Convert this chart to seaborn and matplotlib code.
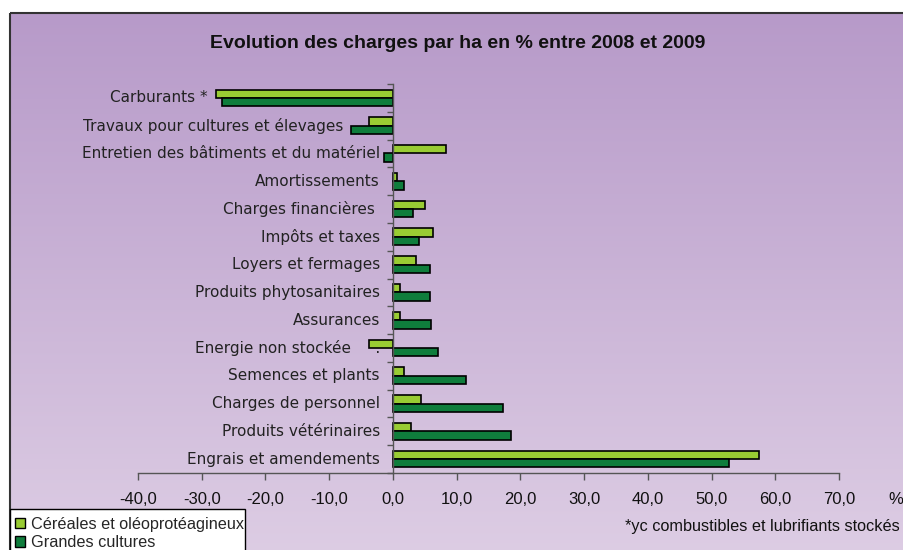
import numpy as np
import pandas as pd
import matplotlib
matplotlib.use("Agg")
import matplotlib.pyplot as plt
import matplotlib.ticker as mticker
from matplotlib.patches import Rectangle, Patch
import matplotlib.transforms as mtransforms
import seaborn as sns

# Data
categories = [
    "Carburants *",
    "Travaux pour cultures et élevages",
    "Entretien des bâtiments et du matériel",
    "Amortissements",
    "Charges financières ",
    "Impôts et taxes",
    "Loyers et fermages",
    "Produits phytosanitaires",
    "Assurances",
    "Energie non stockée     .",
    "Semences et plants",
    "Charges de personnel",
    "Produits vétérinaires",
    "Engrais et amendements",
]
cereales = [-27.8, -3.8, 8.3, 0.6, 5.1, 6.3, 3.7, 1.1, 1.1, -3.8, 1.8, 4.4, 2.8, 57.5]
grandes = [-26.8, -6.5, -1.4, 1.8, 3.2, 4.1, 5.8, 5.8, 6.0, 7.0, 11.4, 17.3, 18.6, 52.8]
series = ["Céréales et oléoprotéagineux", "Grandes cultures"]
colors = ["#99cc33", "#0f7d3c"]
xticks = [-40, -30, -20, -10, 0, 10, 20, 30, 40, 50, 60, 70]

df = pd.DataFrame({
    "Charge": categories * 2,
    "Type": [series[0]] * len(categories) + [series[1]] * len(categories),
    "Evolution": cereales + grandes,
})

sns.set_style("white")
plt.rcParams["font.family"] = ["Liberation Sans", "DejaVu Sans"]

W, H = 904, 550
fig = plt.figure(figsize=(W / 100, H / 100), dpi=100)

# Background gradient with frame
bg = fig.add_axes([0, 0, 1, 1], zorder=-2)
bg.set_xlim(0, W)
bg.set_ylim(H, 0)
bg.axis("off")
top = np.array([183, 154, 201]) / 255
bot = np.array([221, 205, 228]) / 255
t = np.linspace(0, 1, 256)[:, None]
grad = (top[None, :] * (1 - t) + bot[None, :] * t)[:, None, :]
bg.imshow(grad, extent=[10, W + 5, H + 5, 13], aspect="auto", interpolation="bilinear")
bg.add_patch(Rectangle((10, 13), W, H, fill=False, edgecolor="#333333", lw=1.5))
# legend box
bg.add_patch(Rectangle((10, 509), 235, 50, facecolor="white", edgecolor="black", lw=1))

# Main chart
ax = fig.add_axes([138 / W, 1 - 473 / H, (839 - 138) / W, (473 - 84) / H])
ax.patch.set_alpha(0)
sns.barplot(data=df, y="Charge", x="Evolution", hue="Type", order=categories,
            hue_order=series, palette=colors, saturation=1, width=0.6,
            edgecolor="black", linewidth=1.2, orient="h", ax=ax, legend=False)

ax.set_xlim(-40, 70)
ax.set_ylim(len(categories) - 0.5, -0.5)
ax.set_xlabel("")
ax.set_ylabel("")
ax.set_xticks(xticks)
ax.xaxis.set_major_formatter(mticker.FuncFormatter(lambda v, p: f"{v:.1f}".replace(".", ",")))

for s in ["top", "right"]:
    ax.spines[s].set_visible(False)
ax.spines["left"].set_position(("data", 0))
for s in ["left", "bottom"]:
    ax.spines[s].set_color("#555555")
    ax.spines[s].set_linewidth(1)

ax.tick_params(axis="x", bottom=True, direction="out", length=5, width=1, color="#555555",
               pad=9, labelsize=12, labelcolor="#111111")
ax.set_yticks(np.arange(len(categories)))
ax.set_yticklabels([])
ax.set_yticks(np.arange(-0.5, len(categories), 1), minor=True)
ax.tick_params(axis="y", which="major", left=False)
ax.tick_params(axis="y", which="minor", left=True, direction="out", length=4, width=1,
               color="#555555")

# Category labels: next to the axis, or left of long negative bars
for i, name in enumerate(categories):
    lo = min(cereales[i], grandes[i], 0)
    if lo < -5:
        tr = mtransforms.offset_copy(ax.transData, fig=fig, x=-8, y=0, units="dots")
        x = lo
    else:
        tr = mtransforms.offset_copy(ax.transData, fig=fig, x=-13, y=0, units="dots")
        x = 0
    ax.text(x, i, name, transform=tr, ha="right", va="center", fontsize=11,
            family="DejaVu Sans", color="#222222")

# Legend
handles = [Patch(facecolor=c, edgecolor="black", lw=1) for c in colors]
leg = fig.legend(handles, series, loc="upper left", bbox_to_anchor=(15 / W, 1 - 517 / H),
                 frameon=False, fontsize=11.7, handlelength=0.6, handleheight=0.6,
                 handletextpad=0.4, borderpad=0, labelspacing=0.2, borderaxespad=0)

# Texts
fig.text(458 / W, 1 - 44 / H, "Evolution des charges par ha en % entre 2008 et 2009",
         ha="center", va="center", fontsize=14, fontweight="bold", color="#111111")
fig.text(903 / W, 1 - 500 / H, "%", ha="right", va="center", fontsize=12, color="#111111")
fig.text(900 / W, 1 - 526 / H, "*yc combustibles et lubrifiants stockés",
         ha="right", va="center", fontsize=11.7, color="#111111")

fig.savefig("out.png", dpi=100)
